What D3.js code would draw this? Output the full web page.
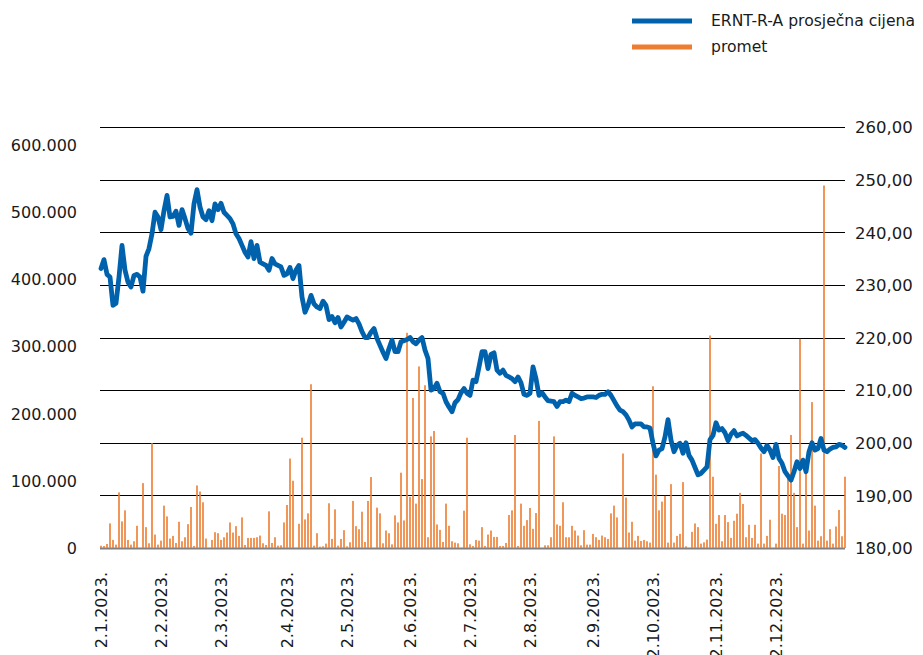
<!DOCTYPE html>
<html>
<head>
<meta charset="utf-8">
<script src="https://cdn.jsdelivr.net/npm/d3@7"></script>
<style>
  body { margin: 0; background: #fff; }
  svg text { font-family: "DejaVu Sans", sans-serif; }
</style>
</head>
<body>
<div id="chart"></div>
<script>
// average price per trading day (right axis)
const prices = [
  233.1, 234.8, 232.0, 231.5, 226.1, 226.5, 231.5, 237.5, 232.8, 230.5,
  229.6, 231.8, 232.0, 231.5, 228.8, 235.4, 236.9, 239.7, 243.8, 242.9,
  240.5, 244.1, 247.0, 242.9, 243.0, 244.0, 241.3, 244.3, 242.6, 240.7,
  239.8, 245.4, 248.1, 244.8, 242.9, 242.4, 244.1, 242.2, 245.4, 244.3,
  245.5, 243.8, 243.2, 242.6, 241.6, 239.7, 238.8, 237.5, 236.2, 235.3,
  238.2, 235.0, 237.5, 234.3, 234.0, 233.7, 232.8, 235.0, 234.0, 233.7,
  233.4, 231.8, 232.1, 233.3, 231.2, 232.8, 233.7, 227.7, 224.8, 226.1,
  228.0, 226.4, 225.8, 225.5, 226.9, 226.1, 223.4, 224.0, 222.8, 223.8,
  222.0, 222.9, 223.9, 223.6, 223.3, 223.6, 222.6, 221.1, 220.0, 220.0,
  221.0, 221.7, 219.8, 218.5, 217.2, 216.0, 217.9, 219.5, 217.3, 217.3,
  219.2, 219.4, 219.6, 220.0, 219.2, 218.8, 219.5, 220.0, 217.6, 216.0,
  210.0, 210.3, 211.3, 209.7, 209.4, 207.8, 206.8, 205.9, 207.6, 208.2,
  209.5, 210.3, 209.4, 209.0, 211.9, 211.6, 214.4, 217.3, 217.3, 214.1,
  216.8, 217.1, 213.8, 213.2, 213.8, 212.8, 212.5, 212.2, 211.6, 212.5,
  211.4, 209.2, 209.0, 209.4, 214.4, 212.2, 209.0, 209.5, 208.7, 208.0,
  207.9, 207.8, 206.9, 207.8, 207.8, 208.1, 207.8, 209.4, 209.0, 208.7,
  208.4, 208.5, 208.7, 208.7, 208.7, 208.6, 209.0, 209.2, 209.2, 209.7,
  209.0, 208.0, 207.0, 206.2, 205.9, 205.3, 204.3, 203.0, 203.6, 203.6,
  203.6, 203.0, 203.0, 202.8, 199.9, 197.5, 198.6, 198.9, 201.1, 204.4,
  200.5, 198.3, 199.5, 199.9, 198.0, 200.0, 197.6, 196.7, 195.3, 193.9,
  194.2, 194.8, 195.4, 200.6, 201.4, 203.8, 202.4, 202.7, 201.9, 200.4,
  201.6, 202.3, 201.3, 201.6, 201.8, 201.4, 200.9, 200.4, 200.6, 199.9,
  199.0, 198.3, 199.5, 198.6, 197.2, 199.7, 197.0, 196.1, 194.5, 193.7,
  192.9, 194.5, 196.4, 195.1, 196.7, 194.5, 198.3, 200.0, 198.6, 198.9,
  200.8, 198.6, 198.3, 198.8, 199.1, 199.2, 199.7, 199.5, 199.1
];

// turnover per trading day, in thousands (left axis)
const volumes = [
  3.4, 3, 6, 36.6, 12, 5, 82.7, 39.6, 56, 12,
  5, 10, 33, 0, 96.5, 31, 7, 156, 20, 5,
  11, 63, 47, 14, 18, 7.5, 39, 10, 16, 35.5,
  61, 3, 93, 84, 68, 14, 0, 12, 23.5, 22,
  12, 16, 23, 38, 23, 32.5, 18, 45.5, 4.5, 15,
  15, 15, 16, 18.5, 7, 4.5, 54.5, 7.5, 16, 3.5,
  4, 38, 64, 133, 100, 0, 36, 164, 42.5, 51.5,
  243.5, 3.5, 22, 2, 2.5, 6.5, 66.5, 13.5, 57.5, 3.5,
  13.5, 26.5, 2.5, 8.5, 70, 32.5, 28, 54, 9, 70,
  105.5, 0, 60, 51.5, 7, 26, 22, 5.5, 48.5, 38,
  112, 41, 320, 76, 223, 66, 270, 102.5, 242, 16,
  166, 174, 35, 27, 9, 66, 33, 10, 8, 7,
  0, 55.5, 164, 5.5, 3, 12, 11, 31, 3, 20,
  26, 16.5, 16.5, 3, 3, 7.5, 49, 56, 168, 3,
  66, 33, 41.5, 59.5, 28.5, 52, 189, 0, 4, 4,
  16, 166, 35, 33, 68, 16, 16, 33, 26, 18.5,
  4, 26.5, 5, 5, 21, 16, 12, 18.5, 16, 13.5,
  51.5, 63, 45.5, 0, 140.5, 75, 23, 39, 11, 18,
  10.5, 12, 10, 8, 240.5, 109, 56, 69, 77.5, 8,
  95, 8, 18, 21, 98, 2.5, 0, 24, 36.5, 31,
  6.5, 8.5, 12.5, 316, 106, 36, 49, 10, 49, 38.5,
  15, 40.5, 51, 82, 65.5, 16, 34.5, 15, 34.5, 6.5,
  140.5, 6.5, 18, 42, 0, 6.5, 122, 51, 49, 106,
  168, 82, 31, 311, 6.5, 122, 26, 217, 63, 11,
  17.5, 539, 11, 28, 6.5, 32, 56.5, 17.5, 106
];

const tickIdx = [0, 20, 40, 62, 82, 103, 123, 143, 164, 184, 205, 225];
const tickLabels = ["2.1.2023.", "2.2.2023.", "2.3.2023.", "2.4.2023.", "2.5.2023.", "2.6.2023.",
  "2.7.2023.", "2.8.2023.", "2.9.2023.", "2.10.2023.", "2.11.2023.", "2.12.2023."];
const leftTicks = [0, 100, 200, 300, 400, 500, 600];
const rightTicks = [180, 190, 200, 210, 220, 230, 240, 250, 260];
const seriesNames = ["ERNT-R-A prosječna cijena", "promet"];
const colors = { price: "#0062ad", volume: "#ed7d31" };

const width = 923, height = 655;
const margin = { top: 127, right: 78, bottom: 107, left: 101 };

const svg = d3.select("#chart").append("svg")
  .attr("width", width)
  .attr("height", height);

const x = d3.scaleLinear()
  .domain([0, prices.length - 1])
  .range([margin.left, width - margin.right]);

const yRight = d3.scaleLinear()
  .domain([180, 260])
  .range([height - margin.bottom, margin.top]);

const yLeft = d3.scaleLinear()
  .domain([0, 626])
  .range([height - margin.bottom, margin.top]);

// gridlines (secondary axis)
svg.append("g")
  .selectAll("line")
  .data(rightTicks)
  .join("line")
  .attr("x1", margin.left - 1)
  .attr("x2", width - margin.right)
  .attr("y1", d => Math.round(yRight(d)) + 0.5)
  .attr("y2", d => Math.round(yRight(d)) + 0.5)
  .attr("stroke", d => d === 180 ? "#808080" : "#000")
  .attr("stroke-width", d => d === 180 ? 2 : 1);

// turnover bars
svg.append("g")
  .attr("fill", colors.volume)
  .selectAll("rect")
  .data(volumes)
  .join("rect")
  .attr("x", (d, i) => x(i) - 0.8)
  .attr("width", 1.6)
  .attr("y", d => yLeft(d))
  .attr("height", d => yLeft(0) - yLeft(d));

// price line
const line = d3.line()
  .x((d, i) => x(i))
  .y(d => yRight(d));

svg.append("path")
  .datum(prices)
  .attr("fill", "none")
  .attr("stroke", colors.price)
  .attr("stroke-width", 4.8)
  .attr("stroke-linejoin", "round")
  .attr("stroke-linecap", "round")
  .attr("d", line);

// left axis
const leftAxis = svg.append("g")
  .attr("transform", `translate(${margin.left - 24},0)`)
  .call(d3.axisLeft(yLeft).tickValues(leftTicks).tickSize(0)
    .tickFormat(d => d === 0 ? "0" : d + ".000"));
leftAxis.select(".domain").remove();
leftAxis.selectAll("text")
  .attr("font-size", 16)
  .attr("fill", "#1a1a1a")
  .attr("x", 0)
  .attr("dy", "0.35em");

// right axis
const rightAxis = svg.append("g")
  .attr("transform", `translate(${width - margin.right + 10},0)`)
  .call(d3.axisRight(yRight).tickValues(rightTicks).tickSize(0)
    .tickFormat(d => d.toFixed(2).replace(".", ",")));
rightAxis.select(".domain").remove();
rightAxis.selectAll("text")
  .attr("font-size", 16.5)
  .attr("fill", "#1a1a1a")
  .attr("x", 0)
  .attr("dy", "0.35em");

// x axis labels, rotated
const xAxis = svg.append("g")
  .attr("transform", `translate(0,${height - margin.bottom + 24})`)
  .call(d3.axisBottom(x).tickValues(tickIdx).tickSize(0)
    .tickFormat((d, i) => tickLabels[i]));
xAxis.select(".domain").remove();
xAxis.selectAll("text")
  .attr("font-size", 16)
  .attr("fill", "#1a1a1a")
  .attr("text-anchor", "end")
  .attr("transform", "rotate(-90)")
  .attr("x", 0)
  .attr("y", 0)
  .attr("dy", "0.35em");

// legend
const legend = svg.append("g").attr("transform", "translate(632,0)");
const legendItems = [
  { name: seriesNames[0], color: colors.price, y: 21 },
  { name: seriesNames[1], color: colors.volume, y: 47 }
];
legend.selectAll("line")
  .data(legendItems)
  .join("line")
  .attr("x1", 0)
  .attr("x2", 60)
  .attr("y1", d => d.y)
  .attr("y2", d => d.y)
  .attr("stroke", d => d.color)
  .attr("stroke-width", 5);
legend.selectAll("text")
  .data(legendItems)
  .join("text")
  .attr("x", 79)
  .attr("y", d => d.y)
  .attr("dy", "0.35em")
  .attr("font-size", 15.6)
  .attr("fill", "#1a1a1a")
  .text(d => d.name);
</script>
</body>
</html>
